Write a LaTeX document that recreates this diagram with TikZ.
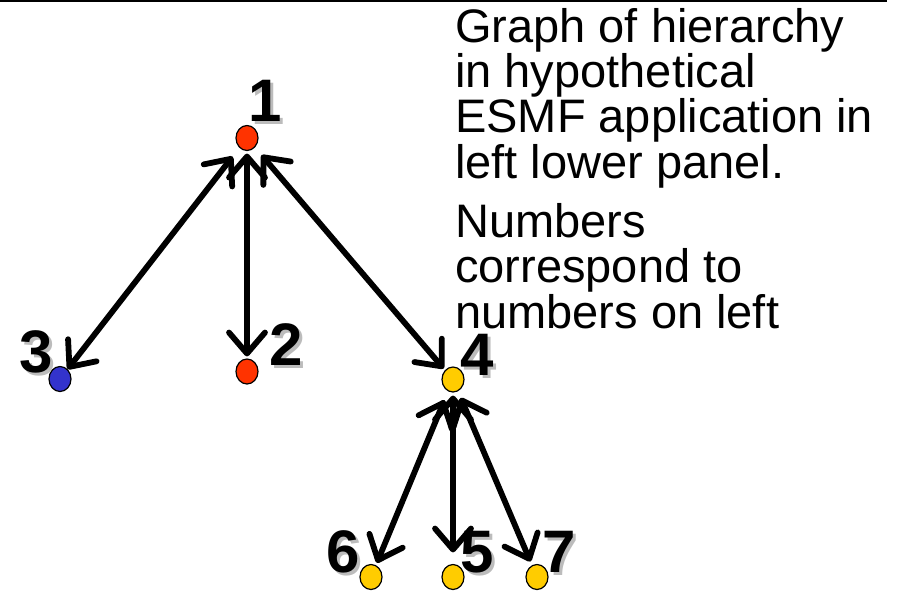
\documentclass[tikz,border=0pt]{standalone}
\usepackage{fontspec}
\setmainfont{Liberation Sans}
\usetikzlibrary{arrows.meta,shapes.geometric}
\definecolor{nodered}{HTML}{FF3300}
\definecolor{nodeblue}{HTML}{3333CC}
\definecolor{nodegold}{HTML}{FFCC00}
\definecolor{shadowgray}{HTML}{BCBCBC}
\begin{document}
\begin{tikzpicture}[x=1pt,y=1pt,
  vertex/.style={ellipse, draw=black, line width=1.2pt, minimum width=22pt, minimum height=25pt, inner sep=0pt},
  link/.style={line width=5.8pt, line cap=round,
    {Straight Barb[length=21pt,width=36pt,round]}-{Straight Barb[length=21pt,width=36pt,round]}},
  num/.style={font=\fontsize{60}{60}\selectfont\bfseries, inner sep=0pt},
  numshadow/.style={num, text=shadowgray},
  caption/.style={anchor=base west, align=left, inner sep=0pt, font=\fontsize{47}{45.3}\selectfont},
]
\useasboundingbox (0,0) rectangle (899,-592);

% rule along the top edge
\draw[line width=2pt] (0,-1) -- (887,-1);

% vertices of the hierarchy
\node[vertex, fill=nodered]  (n1) at (247,-138) {};
\node[vertex, fill=nodered]  (n2) at (247,-371.5) {};
\node[vertex, fill=nodeblue] (n3) at (60,-379) {};
\node[vertex, fill=nodegold] (n4) at (453,-379.5) {};
\node[vertex, fill=nodegold] (n5) at (453,-577) {};
\node[vertex, fill=nodegold] (n6) at (371,-577) {};
\node[vertex, fill=nodegold] (n7) at (537,-577) {};

% vertex numbers with drop shadows
\node[numshadow] (s1) at (268,-104) {1};
\node[num]       (l1) at (265,-101) {1};
\node[numshadow] (s2) at (289,-348) {2};
\node[num]       (l2) at (286,-345) {2};
\node[numshadow] (s3) at (39,-355) {3};
\node[num]       (l3) at (36,-352) {3};
\node[numshadow] (s4) at (480,-358) {4};
\node[num]       (l4) at (477,-355) {4};
\node[numshadow] (s5) at (480,-555) {5};
\node[num]       (l5) at (477,-552) {5};
\node[numshadow] (s6) at (346,-555) {6};
\node[num]       (l6) at (343,-552) {6};
\node[numshadow] (s7) at (562,-555) {7};
\node[num]       (l7) at (559,-552) {7};

% two-way links
\draw[link, shorten <=11pt, shorten >=0pt]  (n1) -- (n3);
\draw[link, shorten <=2.5pt, shorten >=2pt] (n1) -- (n2);
\draw[link, shorten <=10pt, shorten >=2pt]  (n1) -- (n4);
\draw[link, shorten <=9.5pt, shorten >=2.5pt] (n4) -- (n6);
\draw[link, shorten <=3pt, shorten >=11.5pt]  (n4) -- (n5);
\draw[link, shorten <=7pt, shorten >=4pt]   (n4) -- (n7);

% explanatory text (anchored at the baseline of the last line)
\node[caption] (t1) at (455,-178) {Graph of hierarchy\\in hypothetical\\ESMF application in\\left lower panel.};
\node[caption] (t2) at (455,-328) {Numbers\\correspond to\\numbers on left};
\end{tikzpicture}
\end{document}
